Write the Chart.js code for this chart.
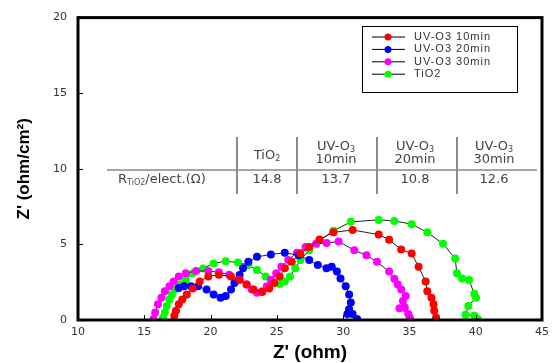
<!DOCTYPE html>
<html>
<head>
<meta charset="utf-8">
<script src="https://cdn.jsdelivr.net/npm/chart.js@4.4.1/dist/chart.umd.min.js"></script>
<style>
  html,body{margin:0;padding:0;background:#fff;}
  #wrap{width:555px;height:363px;position:relative;}
</style>
</head>
<body>
<div id="wrap"><canvas id="c"></canvas></div>
<script>
// ─── DATA ─────────────────────────────────────────────────────────────────────
const seriesNames = ['UV-O3 10min', 'UV-O3 20min', 'UV-O3 30min', 'TiO2'];
const seriesColors = ['#ff0000', '#0000ff', '#ff00ff', '#00ff00'];

const uv10X = [17.26,17.39,17.60,17.87,18.21,18.65,19.18,19.83,20.62,21.54,22.19,22.72,23.24,23.90,24.42,24.81,25.21,25.60,26.12,26.78,27.44,28.22,29.27,30.71,32.68,33.47,34.38,35.17,35.69,36.22,36.35,36.66,36.82,36.87,37.01];
const uv10Y = [0.28,0.61,1.04,1.36,1.69,2.08,2.55,2.88,2.99,2.88,2.66,2.34,2.01,1.86,2.08,2.44,2.88,3.42,3.85,4.39,4.82,5.32,5.80,5.95,5.65,5.30,4.67,4.39,3.52,2.55,1.90,1.47,1.04,0.61,0.17];

const uv20X = [17.60,18.00,18.52,19.05,19.70,20.23,20.75,21.14,21.54,21.80,22.19,22.45,22.85,23.50,24.55,25.60,26.65,27.44,28.09,28.75,29.14,29.53,29.80,30.19,30.45,30.58,30.45,30.32,30.71,31.05];
const uv20Y = [2.12,2.23,2.23,2.23,2.01,1.69,1.47,1.58,2.01,2.44,2.97,3.42,3.85,4.18,4.33,4.45,4.28,3.96,3.63,3.42,3.52,3.20,2.75,2.23,1.69,1.15,0.71,0.39,0.39,0.06];

const uv30X = [15.69,15.82,16.03,16.29,16.55,16.90,17.21,17.60,18.13,18.91,19.83,20.62,21.40,22.19,22.72,23.11,23.50,23.90,24.24,24.55,24.95,25.34,25.86,26.52,27.17,27.96,28.75,29.66,30.84,31.76,32.55,33.47,33.86,34.12,34.38,34.72,34.51,34.65,34.25,34.91,35.04];
const uv30Y = [0.06,0.49,1.04,1.47,1.90,2.23,2.55,2.88,3.09,3.24,3.24,3.16,2.99,2.66,2.34,2.01,1.80,1.90,2.23,2.66,3.09,3.52,3.96,4.45,4.82,5.04,5.10,5.19,4.61,4.28,3.85,3.20,2.73,2.34,2.01,1.58,1.25,0.82,0.78,0.39,0.13];

const tioX = [16.42,16.55,16.69,16.90,17.08,17.34,17.73,18.13,18.65,19.44,20.23,21.14,22.06,22.85,23.50,24.16,24.68,25.21,25.60,25.99,26.39,26.78,27.44,28.22,29.27,30.58,32.68,33.86,35.17,36.35,37.53,38.45,38.58,38.97,39.50,39.89,40.02,39.44,39.23,39.89,40.15];
const tioY = [0.17,0.49,0.93,1.36,1.69,2.01,2.34,2.66,3.09,3.41,3.74,3.89,3.80,3.63,3.31,2.88,2.55,2.38,2.55,2.88,3.42,3.96,4.61,5.25,5.90,6.49,6.62,6.55,6.34,5.80,5.04,4.07,3.09,2.75,2.65,1.73,1.47,0.93,0.35,0.30,0.06];

const xTicks = [10, 15, 20, 25, 30, 35, 40, 45];
const yTicks = [0, 5, 10, 15, 20];

// inset table
const tableHead1 = ['TiO', 'UV-O', 'UV-O', 'UV-O'];
const tableHeadSub = ['2', '3', '3', '3'];
const tableHead2 = ['', '10min', '20min', '30min'];
const tableValues = ['14.8', '13.7', '10.8', '12.6'];

const pts = (xs, ys) => xs.map((x, i) => ({x, y: ys[i]}));
const seriesData = [pts(uv10X, uv10Y), pts(uv20X, uv20Y), pts(uv30X, uv30Y), pts(tioX, tioY)];

// ─── DRAWING HELPERS ──────────────────────────────────────────────────────────
function subText(ctx, main, sub, cx, cy, size) {
  ctx.font = size + 'px "DejaVu Sans"';
  const w1 = ctx.measureText(main).width;
  ctx.font = Math.round(size * 0.6) + 'px "DejaVu Sans"';
  const w2 = ctx.measureText(sub).width;
  let x = cx - (w1 + w2) / 2;
  ctx.textAlign = 'left';
  ctx.font = size + 'px "DejaVu Sans"';
  ctx.fillText(main, x, cy);
  ctx.font = Math.round(size * 0.6) + 'px "DejaVu Sans"';
  ctx.fillText(sub, x + w1, cy + 3);
}

const decor = {
  id: 'decor',
  afterDatasetsDraw(chart) {
    const {ctx, chartArea: a, scales: {x, y}} = chart;
    ctx.save();
    // inward ticks
    ctx.strokeStyle = '#000'; ctx.lineWidth = 1;
    ctx.beginPath();
    xTicks.forEach(v => { const p = Math.round(x.getPixelForValue(v)) + 0.5; ctx.moveTo(p, a.bottom); ctx.lineTo(p, a.bottom - 5); });
    yTicks.forEach(v => { const p = Math.round(y.getPixelForValue(v)) + 0.5; ctx.moveTo(a.left, p); ctx.lineTo(a.left + 5, p); });
    ctx.stroke();
    // frame
    ctx.lineWidth = 3;
    ctx.strokeRect(a.left, a.top, a.right - a.left, a.bottom - a.top);

    // legend
    ctx.lineWidth = 1;
    ctx.fillStyle = '#fff';
    ctx.fillRect(362, 26, 155, 66);
    ctx.strokeStyle = '#000';
    ctx.strokeRect(362.5, 26.5, 155, 66);
    ctx.font = '11px "Liberation Sans"';
    ctx.letterSpacing = '1px';
    ctx.textBaseline = 'middle'; ctx.textAlign = 'left';
    chart.data.datasets.forEach((ds, i) => {
      const ly = 37 + i * 12.4;
      ctx.strokeStyle = '#000';
      ctx.beginPath(); ctx.moveTo(372, ly); ctx.lineTo(405, ly); ctx.stroke();
      ctx.fillStyle = ds.pointBackgroundColor;
      ctx.beginPath(); ctx.arc(388, ly, 3.5, 0, Math.PI * 2); ctx.fill();
      ctx.fillStyle = '#333';
      ctx.fillText(ds.label, 414, ly);
    });
    ctx.letterSpacing = '0px';

    // inset table
    const cols = [267, 336, 415, 494];
    ctx.strokeStyle = '#8a8a8a';
    ctx.lineWidth = 1.5;
    ctx.beginPath(); ctx.moveTo(107, 170); ctx.lineTo(537, 170); ctx.stroke();
    ctx.lineWidth = 2;
    [237, 297, 377, 457].forEach(vx => { ctx.beginPath(); ctx.moveTo(vx, 137); ctx.lineTo(vx, 194); ctx.stroke(); });
    ctx.fillStyle = '#444';
    tableHead1.forEach((t, i) => {
      if (tableHead2[i]) {
        subText(ctx, t, tableHeadSub[i], cols[i], 147, 13);
        ctx.font = '13px "DejaVu Sans"'; ctx.textAlign = 'center';
        ctx.fillText(tableHead2[i], cols[i], 160);
      } else {
        subText(ctx, t, tableHeadSub[i], cols[i], 156, 13);
      }
    });
    ctx.font = '13px "DejaVu Sans"'; ctx.textAlign = 'center';
    tableValues.forEach((v, i) => ctx.fillText(v, cols[i], 180));
    // row label R_TiO2/elect.(Ω)
    ctx.textAlign = 'left';
    let lx = 118;
    ctx.font = '13px "DejaVu Sans"'; ctx.fillText('R', lx, 180); lx += ctx.measureText('R').width;
    ctx.font = '8px "DejaVu Sans"'; ctx.fillStyle = '#556'; ctx.fillText('TiO2', lx, 183); lx += ctx.measureText('TiO2').width;
    ctx.fillStyle = '#444';
    ctx.font = '13px "DejaVu Sans"'; ctx.fillText('/elect.(Ω)', lx, 180);
    ctx.restore();
  }
};

// ─── CHART ────────────────────────────────────────────────────────────────────
new Chart(document.getElementById('c'), {
  type: 'scatter',
  data: {
    datasets: seriesNames.map((n, i) => ({
      label: n, data: seriesData[i], showLine: true,
      borderColor: '#222', borderWidth: 1,
      pointBackgroundColor: seriesColors[i], pointBorderColor: seriesColors[i],
      pointBorderWidth: 0, pointRadius: 4, pointHoverRadius: 4
    }))
  },
  options: {
    responsive: true, maintainAspectRatio: false, animation: false,
    layout: {padding: {left: 12, right: 7, top: 12, bottom: 0}},
    plugins: {legend: {display: false}, tooltip: {enabled: false}},
    scales: {
      x: {
        min: 10, max: 45,
        afterBuildTicks: s => { s.ticks = xTicks.map(v => ({value: v})); },
        afterFit: s => { s.height = 43; },
        grid: {drawOnChartArea: false, drawTicks: false}, border: {display: false},
        ticks: {padding: 6, color: '#333', font: {family: 'DejaVu Sans', size: 11}, maxRotation: 0},
        title: {display: true, text: "Z' (ohm)", color: '#000', padding: {top: 0, bottom: 1},
          font: {family: 'Liberation Sans', size: 19, weight: 'bold', lineHeight: 1}}
      },
      y: {
        min: 0, max: 20,
        afterBuildTicks: s => { s.ticks = yTicks.map(v => ({value: v})); },
        afterFit: s => { s.width = 66; },
        grid: {drawOnChartArea: false, drawTicks: false}, border: {display: false},
        ticks: {padding: 11, color: '#333', font: {family: 'DejaVu Sans', size: 11}},
        title: {display: true, text: "Z' (ohm/cm²)", color: '#000', padding: {top: 4, bottom: 0},
          font: {family: 'Liberation Sans', size: 17, weight: 'bold', lineHeight: 1}}
      }
    }
  },
  plugins: [decor]
});
</script>
</body>
</html>
